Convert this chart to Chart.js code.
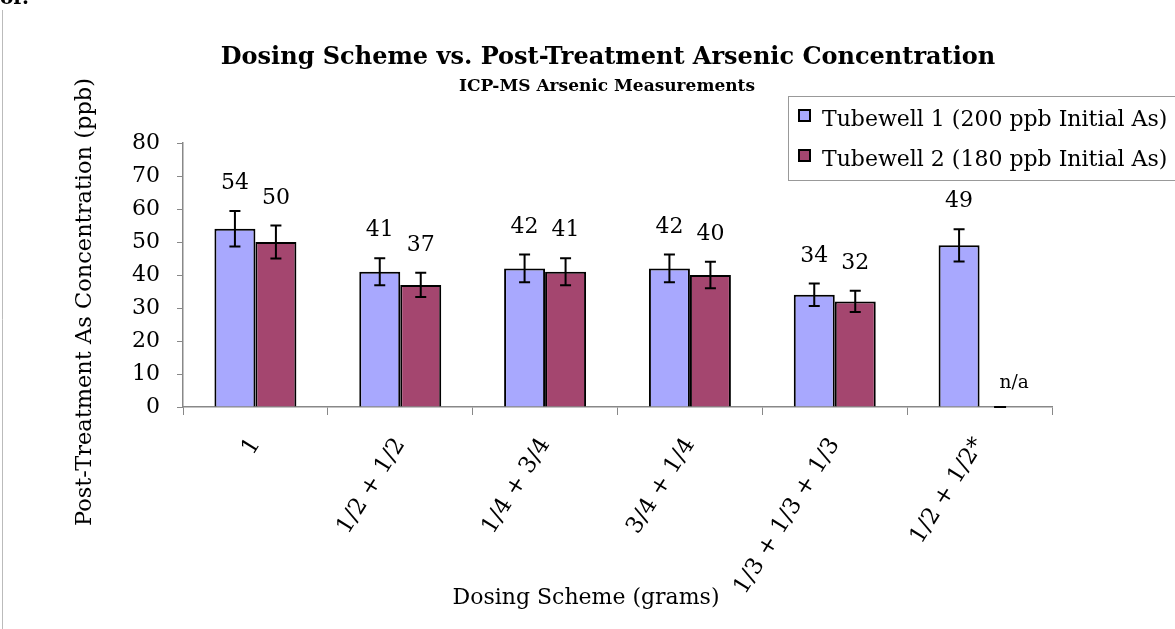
<!DOCTYPE html>
<html>
<head>
<meta charset="utf-8">
<script src="https://cdn.jsdelivr.net/npm/chart.js@4.4.1/dist/chart.umd.min.js"></script>
<style>
  html, body { margin: 0; padding: 0; background: #fff; }
  #wrap { width: 1175px; height: 629px; position: relative; }
</style>
</head>
<body>
<div id="wrap"><canvas id="arsenicChart"></canvas></div>
<script>
// dosing schemes (grams) and ICP-MS results
var categories = ['1', '1/2 + 1/2', '1/4 + 3/4', '3/4 + 1/4', '1/3 + 1/3 + 1/3', '1/2 + 1/2*'];
var tubewell1 = [54, 41, 42, 42, 34, 49];
var tubewell2 = [50, 37, 41, 40, 32, null];
var err1 = [5.4, 4.1, 4.2, 4.2, 3.4, 4.9];
var err2 = [5.0, 3.7, 4.1, 4.0, 3.2, null];
var yMin = 0, yMax = 80, yStep = 10;

var chartTitle = 'Dosing Scheme vs. Post-Treatment Arsenic Concentration';
var chartSubtitle = 'ICP-MS Arsenic Measurements';
var xTitle = 'Dosing Scheme (grams)';
var yTitle = 'Post-Treatment As Concentration (ppb)';

var serif = 'DejaVu Serif';

// error bars + value labels
var barExtras = {
  id: 'barExtras',
  afterDatasetsDraw: function (chart) {
    var ctx = chart.ctx;
    var y = chart.scales.y;
    var errs = [err1, err2];
    ctx.save();
    chart.data.datasets.forEach(function (ds, d) {
      var meta = chart.getDatasetMeta(d);
      meta.data.forEach(function (bar, i) {
        var v = ds.data[i];
        var e = errs[d][i];
        ctx.fillStyle = '#000';
        ctx.font = '22px "' + serif + '"';
        ctx.textAlign = 'center';
        ctx.textBaseline = 'alphabetic';
        if (v === null || v === undefined) {
          // no sample: flat stub and n/a
          var x0 = isNaN(bar.x) ? chart.scales.x.getPixelForValue(i) + 20.5 : bar.x;
          var y0 = y.getPixelForValue(0);
          ctx.strokeStyle = '#000';
          ctx.lineWidth = 2;
          ctx.beginPath();
          ctx.moveTo(x0 - 6, y0);
          ctx.lineTo(x0 + 6, y0);
          ctx.stroke();
          ctx.font = '18.5px "' + serif + '"';
          ctx.fillText('n/a', x0 + 14, y0 - 19);
          return;
        }
        var top = y.getPixelForValue(v + e);
        var bot = y.getPixelForValue(v - e);
        ctx.strokeStyle = '#000';
        ctx.lineWidth = 2;
        ctx.beginPath();
        ctx.moveTo(bar.x, top); ctx.lineTo(bar.x, bot);
        ctx.moveTo(bar.x - 5.5, top); ctx.lineTo(bar.x + 5.5, top);
        ctx.moveTo(bar.x - 5.5, bot); ctx.lineTo(bar.x + 5.5, bot);
        ctx.stroke();
        ctx.fillText(String(v), bar.x, top - 22);
      });
    });
    ctx.restore();
  }
};

// titles, axis titles and the boxed legend
var decorations = {
  id: 'decorations',
  afterDraw: function (chart) {
    var ctx = chart.ctx;
    ctx.save();
    ctx.fillStyle = '#000';
    ctx.textAlign = 'center';
    ctx.textBaseline = 'middle';
    ctx.font = 'bold 24px "' + serif + '"';
    ctx.fillText(chartTitle, 608, 58);
    ctx.font = 'bold 17px "' + serif + '"';
    ctx.fillText(chartSubtitle, 607, 87);
    ctx.font = '22px "' + serif + '"';
    ctx.fillText(xTitle, 586, 598);
    ctx.save();
    ctx.translate(85, 302);
    ctx.rotate(-Math.PI / 2);
    ctx.font = '22.5px "' + serif + '"';
    ctx.fillText(yTitle, 0, 0);
    ctx.restore();

    ctx.fillStyle = '#fff';
    ctx.fillRect(788, 96, 400, 84);
    ctx.strokeStyle = '#999';
    ctx.lineWidth = 1;
    ctx.strokeRect(788.5, 96.5, 400, 84);
    chart.data.datasets.forEach(function (ds, d) {
      var cy = 116 + d * 40;
      ctx.fillStyle = ds.backgroundColor;
      ctx.fillRect(799, cy - 6, 11, 11);
      ctx.strokeStyle = '#000';
      ctx.lineWidth = 2;
      ctx.strokeRect(799, cy - 6, 11, 11);
      ctx.fillStyle = '#000';
      ctx.font = '22px "' + serif + '"';
      ctx.textAlign = 'left';
      ctx.textBaseline = 'middle';
      ctx.fillText(ds.label, 822, cy + 4);
    });

    // page edge from the source document
    ctx.strokeStyle = '#bbb';
    ctx.lineWidth = 1;
    ctx.beginPath();
    ctx.moveTo(2.5, 10); ctx.lineTo(2.5, 629);
    ctx.stroke();
    ctx.fillStyle = '#000';
    ctx.textBaseline = 'alphabetic';
    ctx.font = 'bold 20px "' + serif + '"';
    ctx.fillText('or.', 0, 4);
    ctx.restore();
  }
};

var ctx = document.getElementById('arsenicChart').getContext('2d');
var arsenicChart = new Chart(ctx, {
  type: 'bar',
  data: {
    labels: categories,
    datasets: [
      {
        label: 'Tubewell 1 (200 ppb Initial As)',
        data: tubewell1,
        backgroundColor: '#a8a8fe',
        borderColor: '#000',
        borderWidth: 2,
        borderSkipped: 'bottom'
      },
      {
        label: 'Tubewell 2 (180 ppb Initial As)',
        data: tubewell2,
        backgroundColor: '#a4466f',
        borderColor: '#000',
        borderWidth: 2,
        borderSkipped: 'bottom'
      }
    ]
  },
  options: {
    responsive: true,
    maintainAspectRatio: false,
    animation: false,
    layout: { padding: { left: 0, right: 123, top: 143, bottom: 10 } },
    datasets: { bar: { categoryPercentage: 0.566, barPercentage: 1.0 } },
    plugins: {
      legend: { display: false },
      tooltip: { enabled: false }
    },
    scales: {
      x: {
        offset: true,
        grid: { display: true, drawOnChartArea: false, offset: true, tickLength: 8, color: '#888' },
        border: { color: '#888', width: 1.5 },
        ticks: {
          color: '#000',
          font: { family: serif, size: 23 },
          minRotation: 58,
          maxRotation: 58,
          padding: 18,
          autoSkip: false
        },
        afterFit: function (s) { s.height = 629 - 407 - 10; }
      },
      y: {
        min: yMin,
        max: yMax,
        grid: { display: true, drawOnChartArea: false, tickLength: 6, color: '#888' },
        border: { color: '#888', width: 1.5 },
        ticks: {
          stepSize: yStep,
          color: '#000',
          font: { family: serif, size: 22 },
          padding: 17
        },
        afterFit: function (s) { s.width = 183; }
      }
    }
  },
  plugins: [barExtras, decorations]
});
</script>
</body>
</html>
